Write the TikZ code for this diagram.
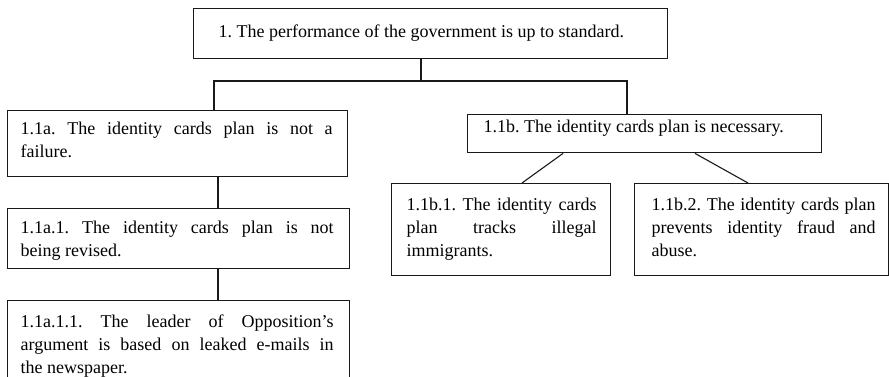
\documentclass[tikz,border=0pt]{standalone}
\usepackage{fontspec}
\setmainfont{Liberation Serif}
\frenchspacing
\hyphenpenalty=10000
\exhyphenpenalty=10000
\tolerance=10000
\hbadness=10000
\newcommand{\boxtext}[6]{\makebox[#1][l]{\hspace*{#3}\parbox[t][#2][t]{#4}{\rule{0pt}{#5}#6}}}
\begin{document}
\begin{tikzpicture}[x=1pt,y=-1pt,
  box/.style={draw=black!90, line width=1.4pt, inner sep=0pt, anchor=north west,
    font=\fontsize{18pt}{23pt}\selectfont},
  link/.style={draw=black!90, line width=1.4pt}]
\useasboundingbox (0,0) rectangle (889,377);
\clip (0,0) rectangle (889,377);

\node[box] (A) at (193,8)
  {\boxtext{474pt}{50pt}{25pt}{424pt}{29pt}{1. The performance of the government is up to standard.}};

\node[box] (B) at (7,110)
  {\boxtext{340pt}{66pt}{13pt}{312pt}{24pt}{1.1a. The identity cards plan is not a\linebreak failure.}};

\node[box] (C) at (7,208)
  {\boxtext{342pt}{60pt}{13pt}{313pt}{25pt}{1.1a.1. The identity cards plan is not\linebreak being revised.}};

\node[box] (D) at (7,300)
  {\boxtext{342pt}{95pt}{13pt}{313pt}{27pt}{1.1a.1.1. The leader of Opposition’s\linebreak argument is based on leaked e-mails in\linebreak the newspaper.}};

\node[box] (E) at (467,114)
  {\boxtext{354pt}{38pt}{16pt}{330pt}{18pt}{1.1b. The identity cards plan is necessary.}};

\node[box] (F) at (391,183)
  {\boxtext{219pt}{92pt}{15pt}{190pt}{27pt}{1.1b.1. The identity cards\linebreak plan tracks illegal\linebreak immigrants.}};

\node[box] (G) at (634,183)
  {\boxtext{254pt}{92pt}{17pt}{224pt}{27pt}{1.1b.2. The identity cards plan\linebreak prevents identity fraud and\linebreak abuse.}};

% connectors
\coordinate (hub) at (421,81);
\draw[link] ([xshift=228pt]A.south west) -- (hub);
\draw[link] ([xshift=207pt]B.north west) |- (hub);
\draw[link] (hub) -| ([xshift=160pt]E.north west);
\draw[link] ([xshift=211pt]B.south west) -- ([xshift=211pt]C.north west);
\draw[link] ([xshift=211pt]C.south west) -- ([xshift=211pt]D.north west);
\draw[link, line width=1.1pt] ([xshift=96pt]E.south west) -- ([xshift=131pt]F.north west);
\draw[link, line width=1.1pt] ([xshift=228pt]E.south west) -- ([xshift=114pt]G.north west);
\end{tikzpicture}
\end{document}
